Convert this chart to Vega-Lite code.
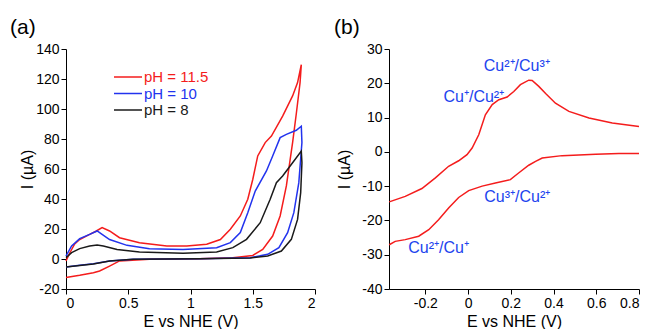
{
  "$schema": "https://vega.github.io/schema/vega-lite/v6.json",
  "padding": {"left": 10, "top": 17, "right": 0, "bottom": 0},
  "background": "white",
  "config": {
    "font": "Liberation Sans",
    "view": {"stroke": null},
    "axis": {
      "grid": false,
      "domainColor": "#000000",
      "tickColor": "#000000",
      "labelColor": "#000000",
      "titleColor": "#000000",
      "labelFontSize": 14,
      "titleFontSize": 16,
      "titleFontWeight": "normal",
      "tickSize": 5,
      "labelPadding": 2,
      "domainWidth": 1,
      "tickWidth": 1,
      "labelOverlap": false,
      "labelExpr": "datum.value + ''"
    },
    "title": {"fontSize": 21, "fontWeight": "normal", "anchor": "start", "frame": "group", "color": "#000000"}
  },
  "spacing": 18,
  "hconcat": [
    {
      "width": 249,
      "height": 240,
      "title": {"text": "(a)", "dx": -56},
      "data": {"values": [
        {"s": "pH = 11.5", "o": 1, "E": 0, "I": -1.3},
        {"s": "pH = 11.5", "o": 2, "E": 0.03, "I": 4},
        {"s": "pH = 11.5", "o": 3, "E": 0.07, "I": 10},
        {"s": "pH = 11.5", "o": 4, "E": 0.11, "I": 13},
        {"s": "pH = 11.5", "o": 5, "E": 0.19, "I": 16.4},
        {"s": "pH = 11.5", "o": 6, "E": 0.24, "I": 18.5},
        {"s": "pH = 11.5", "o": 7, "E": 0.29, "I": 21},
        {"s": "pH = 11.5", "o": 8, "E": 0.35, "I": 18.7},
        {"s": "pH = 11.5", "o": 9, "E": 0.43, "I": 14.2},
        {"s": "pH = 11.5", "o": 10, "E": 0.59, "I": 10.9},
        {"s": "pH = 11.5", "o": 11, "E": 0.81, "I": 8.7},
        {"s": "pH = 11.5", "o": 12, "E": 0.97, "I": 8.7},
        {"s": "pH = 11.5", "o": 13, "E": 1.13, "I": 9.8},
        {"s": "pH = 11.5", "o": 14, "E": 1.24, "I": 13},
        {"s": "pH = 11.5", "o": 15, "E": 1.32, "I": 19.8},
        {"s": "pH = 11.5", "o": 16, "E": 1.40, "I": 28.7},
        {"s": "pH = 11.5", "o": 17, "E": 1.46, "I": 39.8},
        {"s": "pH = 11.5", "o": 18, "E": 1.50, "I": 53},
        {"s": "pH = 11.5", "o": 19, "E": 1.54, "I": 68.7},
        {"s": "pH = 11.5", "o": 20, "E": 1.60, "I": 77.6},
        {"s": "pH = 11.5", "o": 21, "E": 1.65, "I": 82},
        {"s": "pH = 11.5", "o": 22, "E": 1.74, "I": 95.3},
        {"s": "pH = 11.5", "o": 23, "E": 1.82, "I": 108.7},
        {"s": "pH = 11.5", "o": 24, "E": 1.86, "I": 117.6},
        {"s": "pH = 11.5", "o": 25, "E": 1.89, "I": 129.5},
        {"s": "pH = 11.5", "o": 26, "E": 1.88, "I": 117.6},
        {"s": "pH = 11.5", "o": 27, "E": 1.85, "I": 97},
        {"s": "pH = 11.5", "o": 28, "E": 1.82, "I": 77.6},
        {"s": "pH = 11.5", "o": 29, "E": 1.77, "I": 48.7},
        {"s": "pH = 11.5", "o": 30, "E": 1.72, "I": 28.7},
        {"s": "pH = 11.5", "o": 31, "E": 1.66, "I": 15.3},
        {"s": "pH = 11.5", "o": 32, "E": 1.58, "I": 6.4},
        {"s": "pH = 11.5", "o": 33, "E": 1.50, "I": 2.4},
        {"s": "pH = 11.5", "o": 34, "E": 1.34, "I": 0.9},
        {"s": "pH = 11.5", "o": 35, "E": 1.07, "I": 0.2},
        {"s": "pH = 11.5", "o": 36, "E": 0.67, "I": -0.2},
        {"s": "pH = 11.5", "o": 37, "E": 0.43, "I": -1.3},
        {"s": "pH = 11.5", "o": 38, "E": 0.35, "I": -4.7},
        {"s": "pH = 11.5", "o": 39, "E": 0.27, "I": -8},
        {"s": "pH = 11.5", "o": 40, "E": 0.22, "I": -9.1},
        {"s": "pH = 11.5", "o": 41, "E": 0.11, "I": -10.9},
        {"s": "pH = 11.5", "o": 42, "E": 0, "I": -12.4},
        {"s": "pH = 10", "o": 1, "E": 0, "I": 2},
        {"s": "pH = 10", "o": 2, "E": 0.045, "I": 8.7},
        {"s": "pH = 10", "o": 3, "E": 0.11, "I": 13.6},
        {"s": "pH = 10", "o": 4, "E": 0.19, "I": 16.4},
        {"s": "pH = 10", "o": 5, "E": 0.25, "I": 18.7},
        {"s": "pH = 10", "o": 6, "E": 0.29, "I": 16.4},
        {"s": "pH = 10", "o": 7, "E": 0.35, "I": 13},
        {"s": "pH = 10", "o": 8, "E": 0.49, "I": 9.1},
        {"s": "pH = 10", "o": 9, "E": 0.67, "I": 6.9},
        {"s": "pH = 10", "o": 10, "E": 0.94, "I": 6.4},
        {"s": "pH = 10", "o": 11, "E": 1.21, "I": 7.5},
        {"s": "pH = 10", "o": 12, "E": 1.32, "I": 10.9},
        {"s": "pH = 10", "o": 13, "E": 1.40, "I": 17.6},
        {"s": "pH = 10", "o": 14, "E": 1.46, "I": 30.9},
        {"s": "pH = 10", "o": 15, "E": 1.52, "I": 45.3},
        {"s": "pH = 10", "o": 16, "E": 1.61, "I": 58.7},
        {"s": "pH = 10", "o": 17, "E": 1.66, "I": 68.7},
        {"s": "pH = 10", "o": 18, "E": 1.72, "I": 80.9},
        {"s": "pH = 10", "o": 19, "E": 1.77, "I": 83.1},
        {"s": "pH = 10", "o": 20, "E": 1.85, "I": 85.8},
        {"s": "pH = 10", "o": 21, "E": 1.89, "I": 88.5},
        {"s": "pH = 10", "o": 22, "E": 1.895, "I": 77.6},
        {"s": "pH = 10", "o": 23, "E": 1.87, "I": 50.9},
        {"s": "pH = 10", "o": 24, "E": 1.83, "I": 30.9},
        {"s": "pH = 10", "o": 25, "E": 1.78, "I": 17.6},
        {"s": "pH = 10", "o": 26, "E": 1.71, "I": 7.6},
        {"s": "pH = 10", "o": 27, "E": 1.62, "I": 3.1},
        {"s": "pH = 10", "o": 28, "E": 1.48, "I": 0.9},
        {"s": "pH = 10", "o": 29, "E": 1.07, "I": 0.2},
        {"s": "pH = 10", "o": 30, "E": 0.54, "I": -0.2},
        {"s": "pH = 10", "o": 31, "E": 0.35, "I": -1.3},
        {"s": "pH = 10", "o": 32, "E": 0.22, "I": -3.1},
        {"s": "pH = 10", "o": 33, "E": 0.11, "I": -4.2},
        {"s": "pH = 10", "o": 34, "E": 0, "I": -5.3},
        {"s": "pH = 8", "o": 1, "E": 0, "I": 0.9},
        {"s": "pH = 8", "o": 2, "E": 0.045, "I": 4.2},
        {"s": "pH = 8", "o": 3, "E": 0.11, "I": 6.9},
        {"s": "pH = 8", "o": 4, "E": 0.19, "I": 8.7},
        {"s": "pH = 8", "o": 5, "E": 0.25, "I": 9.3},
        {"s": "pH = 8", "o": 6, "E": 0.30, "I": 8.7},
        {"s": "pH = 8", "o": 7, "E": 0.41, "I": 6.4},
        {"s": "pH = 8", "o": 8, "E": 0.59, "I": 4.7},
        {"s": "pH = 8", "o": 9, "E": 0.94, "I": 3.8},
        {"s": "pH = 8", "o": 10, "E": 1.21, "I": 4.7},
        {"s": "pH = 8", "o": 11, "E": 1.34, "I": 7.6},
        {"s": "pH = 8", "o": 12, "E": 1.45, "I": 13.1},
        {"s": "pH = 8", "o": 13, "E": 1.56, "I": 24.2},
        {"s": "pH = 8", "o": 14, "E": 1.64, "I": 39.8},
        {"s": "pH = 8", "o": 15, "E": 1.69, "I": 50.9},
        {"s": "pH = 8", "o": 16, "E": 1.74, "I": 55.3},
        {"s": "pH = 8", "o": 17, "E": 1.82, "I": 64.2},
        {"s": "pH = 8", "o": 18, "E": 1.89, "I": 72},
        {"s": "pH = 8", "o": 19, "E": 1.895, "I": 64.2},
        {"s": "pH = 8", "o": 20, "E": 1.885, "I": 44.2},
        {"s": "pH = 8", "o": 21, "E": 1.86, "I": 26.4},
        {"s": "pH = 8", "o": 22, "E": 1.81, "I": 13.1},
        {"s": "pH = 8", "o": 23, "E": 1.73, "I": 5.3},
        {"s": "pH = 8", "o": 24, "E": 1.62, "I": 2},
        {"s": "pH = 8", "o": 25, "E": 1.48, "I": 0.7},
        {"s": "pH = 8", "o": 26, "E": 1.07, "I": 0.2},
        {"s": "pH = 8", "o": 27, "E": 0.54, "I": -0.2},
        {"s": "pH = 8", "o": 28, "E": 0.35, "I": -1.3},
        {"s": "pH = 8", "o": 29, "E": 0.22, "I": -3.3},
        {"s": "pH = 8", "o": 30, "E": 0.11, "I": -4.3},
        {"s": "pH = 8", "o": 31, "E": 0, "I": -5.3}
      ]},
      "mark": {"type": "line", "strokeWidth": 1.5},
      "encoding": {
        "x": {"field": "E", "type": "quantitative", "scale": {"domain": [0, 2], "nice": false}, "axis": {"values": [0, 0.5, 1, 1.5, 2], "title": "E vs NHE (V)", "titlePadding": 3}},
        "y": {"field": "I", "type": "quantitative", "scale": {"domain": [-20, 140], "nice": false, "zero": false}, "axis": {"values": [-20, 0, 20, 40, 60, 80, 100, 120, 140], "title": "I (µA)", "titleX": -31}},
        "color": {"field": "s", "type": "nominal", "scale": {"domain": ["pH = 11.5", "pH = 10", "pH = 8"], "range": ["#f41c1c", "#2233ee", "#1a1a1a"]},
          "legend": {"title": null, "orient": "none", "legendX": 54, "legendY": 20, "symbolType": "M-2,0H2", "symbolSize": 196, "symbolStrokeWidth": 1.5, "labelFontSize": 15, "labelOffset": 8, "rowPadding": 0.5,
            "encode": {"labels": {"update": {"fill": {"signal": "datum.value === 'pH = 11.5' ? '#f41c1c' : (datum.value === 'pH = 10' ? '#2233ee' : '#1a1a1a')"}}}}}},
        "order": {"field": "o", "type": "quantitative"}
      }
    },
    {
      "width": 250,
      "height": 240,
      "title": {"text": "(b)", "dx": -55},
      "encoding": {
        "x": {"field": "E", "type": "quantitative", "scale": {"domain": [-0.37, 0.8], "nice": false, "zero": false}, "axis": {"values": [-0.2, 0, 0.2, 0.4, 0.6, 0.8], "title": "E vs NHE (V)", "titlePadding": 3}},
        "y": {"field": "I", "type": "quantitative", "scale": {"domain": [-40, 30], "nice": false, "zero": false}, "axis": {"values": [-40, -30, -20, -10, 0, 10, 20, 30], "title": "I (µA)", "titleX": -37}}
      },
      "layer": [
        {
          "data": {"values": [
            {"b": "up", "o": 1, "E": -0.369, "I": -14.6},
            {"b": "up", "o": 2, "E": -0.294, "I": -13},
            {"b": "up", "o": 3, "E": -0.216, "I": -10.7},
            {"b": "up", "o": 4, "E": -0.153, "I": -7.6},
            {"b": "up", "o": 5, "E": -0.091, "I": -4.2},
            {"b": "up", "o": 6, "E": -0.044, "I": -2.6},
            {"b": "up", "o": 7, "E": -0.005, "I": -0.8},
            {"b": "up", "o": 8, "E": 0.019, "I": 1.1},
            {"b": "up", "o": 9, "E": 0.05, "I": 5},
            {"b": "up", "o": 10, "E": 0.081, "I": 10.8},
            {"b": "up", "o": 11, "E": 0.113, "I": 13.8},
            {"b": "up", "o": 12, "E": 0.144, "I": 15.2},
            {"b": "up", "o": 13, "E": 0.183, "I": 16},
            {"b": "up", "o": 14, "E": 0.214, "I": 17.6},
            {"b": "up", "o": 15, "E": 0.245, "I": 19.6},
            {"b": "up", "o": 16, "E": 0.284, "I": 20.9},
            {"b": "up", "o": 17, "E": 0.3, "I": 20.8},
            {"b": "up", "o": 18, "E": 0.331, "I": 19.1},
            {"b": "up", "o": 19, "E": 0.363, "I": 17},
            {"b": "up", "o": 20, "E": 0.409, "I": 14.2},
            {"b": "up", "o": 21, "E": 0.472, "I": 11.8},
            {"b": "up", "o": 22, "E": 0.566, "I": 9.9},
            {"b": "up", "o": 23, "E": 0.675, "I": 8.4},
            {"b": "up", "o": 24, "E": 0.8, "I": 7.4},
            {"b": "down", "o": 25, "E": 0.8, "I": -0.5},
            {"b": "down", "o": 26, "E": 0.706, "I": -0.5},
            {"b": "down", "o": 27, "E": 0.597, "I": -0.7},
            {"b": "down", "o": 28, "E": 0.44, "I": -1.1},
            {"b": "down", "o": 29, "E": 0.347, "I": -1.8},
            {"b": "down", "o": 30, "E": 0.316, "I": -2.8},
            {"b": "down", "o": 31, "E": 0.284, "I": -3.9},
            {"b": "down", "o": 32, "E": 0.238, "I": -6.1},
            {"b": "down", "o": 33, "E": 0.198, "I": -8.1},
            {"b": "down", "o": 34, "E": 0.128, "I": -9.1},
            {"b": "down", "o": 35, "E": 0.066, "I": -10},
            {"b": "down", "o": 36, "E": 0.003, "I": -11.3},
            {"b": "down", "o": 37, "E": -0.044, "I": -13.3},
            {"b": "down", "o": 38, "E": -0.091, "I": -16.4},
            {"b": "down", "o": 39, "E": -0.138, "I": -19.8},
            {"b": "down", "o": 40, "E": -0.184, "I": -22.7},
            {"b": "down", "o": 41, "E": -0.231, "I": -24.6},
            {"b": "down", "o": 42, "E": -0.294, "I": -25.6},
            {"b": "down", "o": 43, "E": -0.341, "I": -26.1},
            {"b": "down", "o": 44, "E": -0.369, "I": -27.1}
          ]},
          "mark": {"type": "line", "strokeWidth": 1.5, "color": "#f41c1c"},
          "encoding": {
            "detail": {"field": "b", "type": "nominal"},
            "order": {"field": "o", "type": "quantitative"}
          }
        },
        {
          "data": {"values": [
            {"E": 0.228, "I": 24.9, "t": "Cu²⁺/Cu³⁺"},
            {"E": 0.027, "I": 16, "t": "Cu⁺/Cu²⁺"},
            {"E": 0.23, "I": -13.2, "t": "Cu³⁺/Cu²⁺"},
            {"E": -0.138, "I": -28, "t": "Cu²⁺/Cu⁺"}
          ]},
          "mark": {"type": "text", "fontSize": 16, "color": "#2244ee", "align": "center", "baseline": "middle"},
          "encoding": {
            "text": {"field": "t"}
          }
        }
      ]
    }
  ]
}
